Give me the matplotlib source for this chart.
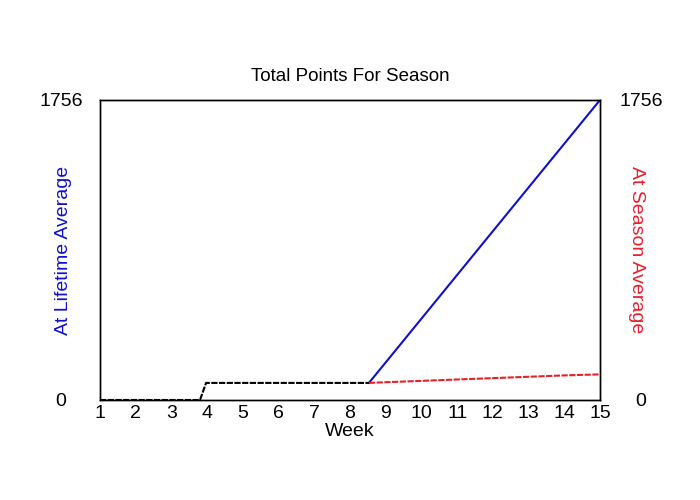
import matplotlib
matplotlib.use("Agg")
import matplotlib.pyplot as plt

plt.rcParams['font.family'] = ['Liberation Sans', 'DejaVu Sans']

# season total, weeks before the split
base_weeks = [1, 3.8, 3.97, 8.53]
base_pts = [0, 0, 100, 100]

# projected at lifetime average
life_weeks = [8.53, 9, 10, 11, 12, 13, 14, 15]
life_pts = [100, 220, 476, 732, 988, 1244, 1500, 1756]

# projected at season average
season_weeks = [8.53, 9, 10, 11, 12, 13, 14, 15]
season_pts = [100, 104, 112, 120, 128, 136, 144, 150]

week_ticks = list(range(1, 16))
y_max = 1756

blue = '#1010cc'
red = '#e8202a'

fig = plt.figure(figsize=(7, 5), dpi=100)
ax = fig.add_axes([100/700, 0.2, 500/700, 0.6])

ax.plot(life_weeks, life_pts, color=blue, lw=1.5)
ax.plot(season_weeks, season_pts, color=red, lw=1.5, ls=(0, (3, 0.7)))
ax.plot(base_weeks, base_pts, color='black', lw=1.5, ls=(0, (3, 0.7)))

ax.set_xlim(1, 15)
ax.set_ylim(0, y_max)
ax.set_xticks(week_ticks)
ax.set_yticks([0, y_max])
ax.set_yticklabels(['0', str(y_max)], ha='center')
ax.tick_params(length=0, labelsize=14)
ax.tick_params(axis='x', pad=3.5)
ax.tick_params(axis='y', pad=28)

ax2 = ax.twinx()
ax2.set_ylim(0, y_max)
ax2.set_yticks([0, y_max])
ax2.set_yticklabels(['0', str(y_max)], ha='center')
ax2.tick_params(length=0, labelsize=14, pad=29.5)

for a in (ax, ax2):
    for s in a.spines.values():
        s.set_linewidth(1.0)

ax.set_title('Total Points For Season', fontsize=13.5, pad=14)
ax.set_xlabel('Week', fontsize=14, labelpad=1)
ax.set_ylabel('At Lifetime Average', color=blue, fontsize=14, va='center')
ax.yaxis.set_label_coords(-0.074, 0.5)
ax2.set_ylabel('At Season Average', color=red, fontsize=14, rotation=270, va='center')
ax2.yaxis.set_label_coords(1.074, 0.5)

fig.savefig('out.png', dpi=100)
